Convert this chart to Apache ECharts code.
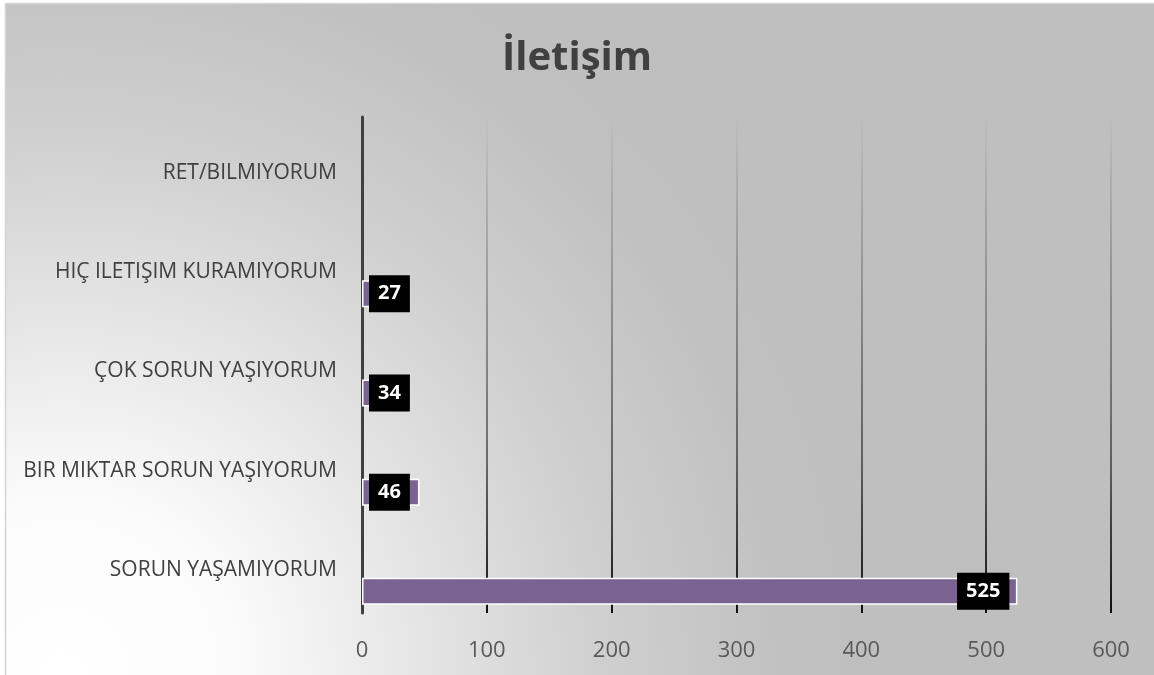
<!DOCTYPE html>
<html>
<head>
<meta charset="utf-8">
<script src="https://cdn.jsdelivr.net/npm/echarts@6/dist/echarts.min.js"></script>
<style>
  html, body { margin: 0; padding: 0; background: #ffffff; }
  #chart { width: 1154px; height: 675px; }
</style>
</head>
<body>
<div id="chart"></div>
<script>
// Categories listed bottom to top, as the vertical category axis draws them
const categories = [
  'SORUN YAŞAMIYORUM',
  'BIR MIKTAR SORUN YAŞIYORUM',
  'ÇOK SORUN YAŞIYORUM',
  'HIÇ ILETIŞIM KURAMIYORUM',
  'RET/BILMIYORUM'
];
const counts = [525, 46, 34, 27, null];
const placeholder = [null, null, null, null, null];
const chartTitle = 'İletişim';
const FONT = "'Open Sans', 'Noto Sans', sans-serif";

// Long bars carry their label at the inside end, short ones next to the axis
const countItems = counts.map(v => {
  if (v == null) return { value: v, label: { show: false } };
  if (v > 100) return { value: v, label: { position: 'insideRight', offset: [-3, 0] } };
  return { value: v, label: { position: 'insideLeft', offset: [2, 0] } };
});

const chart = echarts.init(document.getElementById('chart'), null, { renderer: 'canvas' });

chart.setOption({
  animation: false,
  backgroundColor: '#ffffff',
  graphic: [{
    type: 'rect',
    z: -10,
    silent: true,
    shape: { x: 5.5, y: 3.5, width: 1170, height: 690 },
    style: {
      stroke: '#d4d4d4',
      lineWidth: 1.5,
      fill: {
        type: 'radial', x: 0.05, y: 0.97, r: 1.15,
        colorStops: [
          { offset: 0, color: '#ffffff' },
          { offset: 0.22, color: '#fbfbfb' },
          { offset: 0.5, color: '#e0e0e0' },
          { offset: 0.68, color: '#cfcfcf' },
          { offset: 0.9, color: '#c1c1c1' },
          { offset: 1, color: '#bfbfbf' }
        ]
      }
    }
  }],
  title: {
    text: chartTitle,
    left: 'center',
    top: 34,
    textStyle: { fontFamily: FONT, fontSize: 40, fontWeight: 'bold', color: '#404040' }
  },
  grid: { left: 362, right: 43, top: 117, bottom: 62, containLabel: false },
  xAxis: {
    type: 'value',
    min: 0,
    max: 600,
    interval: 100,
    axisLine: { show: false },
    axisTick: { show: false },
    axisLabel: { fontFamily: FONT, fontSize: 22, color: '#595959', margin: 27 },
    splitLine: {
      show: true,
      lineStyle: {
        width: 2,
        color: {
          type: 'linear', x: 0, y: 0, x2: 0, y2: 1,
          colorStops: [
            { offset: 0, color: 'rgba(30,30,30,0)' },
            { offset: 0.3, color: 'rgba(30,30,30,0.25)' },
            { offset: 0.7, color: 'rgba(30,30,30,0.6)' },
            { offset: 1, color: 'rgba(15,15,15,1)' }
          ]
        }
      }
    }
  },
  yAxis: {
    type: 'category',
    data: categories,
    axisLine: { show: true, lineStyle: { color: '#404040', width: 3 } },
    axisTick: { show: false },
    axisLabel: {
      fontFamily: FONT, fontSize: 21, color: '#404040', margin: 25,
      verticalAlign: 'top', lineHeight: 13
    },
    splitLine: { show: false }
  },
  series: [
    {
      type: 'bar',
      data: placeholder,
      barWidth: 27,
      barGap: '107%',
      silent: true
    },
    {
      type: 'bar',
      data: countItems,
      barWidth: 27,
      barGap: '107%',
      itemStyle: { color: '#7a6390', borderColor: '#ffffff', borderWidth: 1.5 },
      label: {
        show: true,
        position: 'insideLeft',
        formatter: p => (p.value == null ? '' : String(p.value)),
        fontFamily: FONT,
        fontSize: 20,
        fontWeight: 'bold',
        color: '#ffffff',
        backgroundColor: '#000000',
        padding: [9, 9, 8, 9],
        lineHeight: 20
      }
    }
  ]
});
</script>
</body>
</html>
